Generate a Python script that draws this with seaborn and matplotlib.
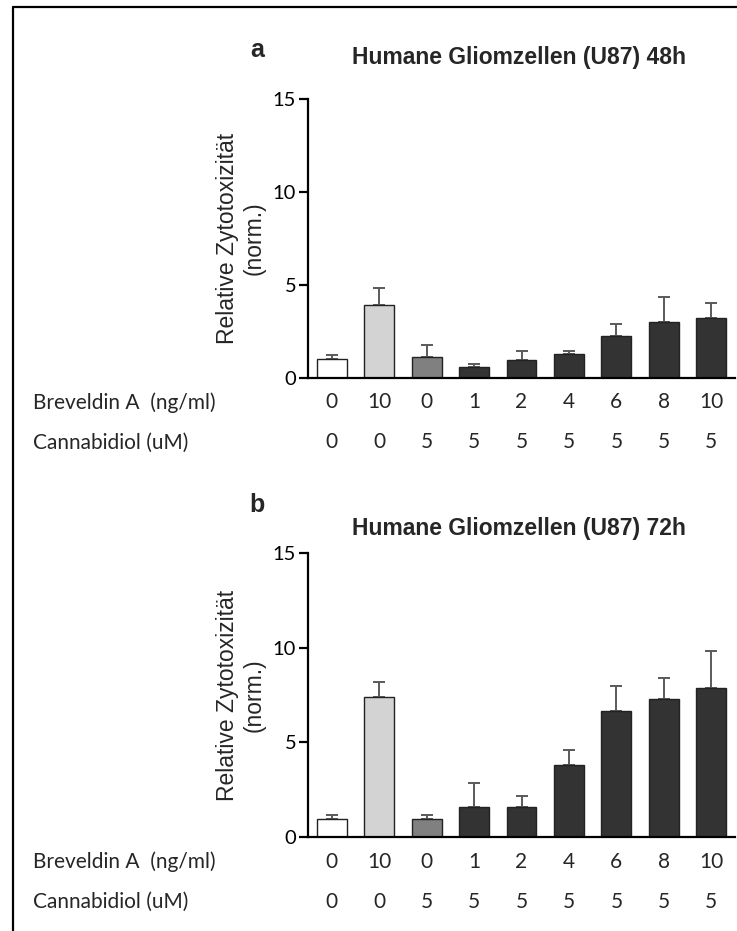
import numpy as np
import pandas as pd
import matplotlib
matplotlib.use("Agg")
import matplotlib.pyplot as plt
import matplotlib.transforms as mtransforms
from matplotlib.lines import Line2D
import seaborn as sns

# ---------------- data ----------------
brefeldin = ["0", "10", "0", "1", "2", "4", "6", "8", "10"]
cannabidiol = ["0", "0", "5", "5", "5", "5", "5", "5", "5"]

mean_48h = [1.00, 3.95, 1.15, 0.57, 0.97, 1.28, 2.27, 3.03, 3.23]
sd_48h = [0.24, 0.89, 0.61, 0.16, 0.50, 0.19, 0.66, 1.31, 0.79]

mean_72h = [0.93, 7.39, 0.96, 1.58, 1.58, 3.78, 6.65, 7.27, 7.88]
sd_72h = [0.24, 0.78, 0.22, 1.28, 0.57, 0.84, 1.32, 1.14, 1.94]

titles = ["Humane Gliomzellen (U87) 48h", "Humane Gliomzellen (U87) 72h"]
panel_letters = ["a", "b"]
row_labels = ["Breveldin A  (ng/ml)", "Cannabidiol (uM)"]
ylabel = "Relative Zytotoxizität\n(norm.)"
yticks = [0, 5, 10, 15]

bar_colors = ["#ffffff", "#d3d3d3", "#808080", "#333333", "#333333",
              "#333333", "#333333", "#333333", "#333333"]

# ---------------- style ----------------
sns.set_style("ticks")
plt.rcParams["font.family"] = ["Liberation Sans", "DejaVu Sans"]

W, H = 737, 931
fig = plt.figure(figsize=(W / 100, H / 100), dpi=100)


def px_axes(left, right, y0, ytop):
    return [left / W, 1 - y0 / H, (right - left) / W, (y0 - ytop) / H]


axes_rects = [px_axes(308, 735, 378, 99), px_axes(308, 735, 837, 553)]
means = [mean_48h, mean_72h]
sds = [sd_48h, sd_72h]
tick_font = ["Lato", "DejaVu Sans"]
label_fs = 15

conds = [f"{b}/{c}" for b, c in zip(brefeldin, cannabidiol)]

for i in range(2):
    ax = fig.add_axes(axes_rects[i])
    df = pd.DataFrame({"cond": conds, "mean": means[i], "sd": sds[i]})
    sns.barplot(data=df, x="cond", y="mean", hue="cond", palette=bar_colors,
                legend=False, width=0.63, edgecolor="#222222", linewidth=1.0,
                errorbar=None, ax=ax, zorder=2)
    xs = np.arange(len(conds))
    ax.errorbar(xs, df["mean"], yerr=[np.zeros(len(conds)), df["sd"]],
                fmt="none", ecolor="#5a5a5a", elinewidth=1.4, capsize=4.5,
                capthick=1.4, zorder=1)
    ax.set_xlim(-0.5, len(conds) - 0.5)
    ax.set_ylim(0, 15)
    ax.set_yticks(yticks)
    ax.set_yticklabels([str(t) for t in yticks], family=tick_font, fontsize=14.5)
    ax.tick_params(axis="y", length=6.5, width=1.6, pad=2, colors="black")
    ax.tick_params(axis="x", length=0)
    ax.set_xticks(xs)
    ax.set_xticklabels([])
    ax.set_xlabel("")
    for s in ["left", "bottom"]:
        ax.spines[s].set_linewidth(1.6)
        ax.spines[s].set_color("black")
    sns.despine(ax=ax)
    ax.set_ylabel(ylabel, fontsize=16.5, linespacing=1.2)
    ax.yaxis.set_label_coords(-0.1, 0.5)

    # two rows of condition labels under the bars
    for row, (vals, off) in enumerate([(brefeldin, 0.245), (cannabidiol, 0.645)]):
        trans = ax.get_xaxis_transform() + mtransforms.ScaledTranslation(
            0, -off, fig.dpi_scale_trans)
        for x, v in zip(xs, vals):
            ax.text(x, 0, v, transform=trans, ha="center", va="center",
                    family=tick_font, fontsize=label_fs)
        y_fig = axes_rects[i][1] - off * 100 / H
        fig.text(33 / W, y_fig, row_labels[row], ha="left", va="center",
                 family=tick_font, fontsize=label_fs)

    title_y = [57.5, 528][i]
    fig.text(519 / W, 1 - title_y / H, titles[i], ha="center", va="center",
             fontsize=16.5, fontweight="bold")
    letter_y = [50, 505][i]
    fig.text(257 / W, 1 - letter_y / H, panel_letters[i], ha="center",
             va="center", fontsize=18, fontweight="bold")

# frame lines (left and top) of the figure panel
fig.add_artist(Line2D([13 / W, 13 / W], [0, 1 - 7 / H], transform=fig.transFigure,
                      color="black", lw=1.6))
fig.add_artist(Line2D([13 / W, 1], [1 - 7 / H, 1 - 7 / H], transform=fig.transFigure,
                      color="black", lw=1.6))

fig.savefig("out.png", dpi=100)
